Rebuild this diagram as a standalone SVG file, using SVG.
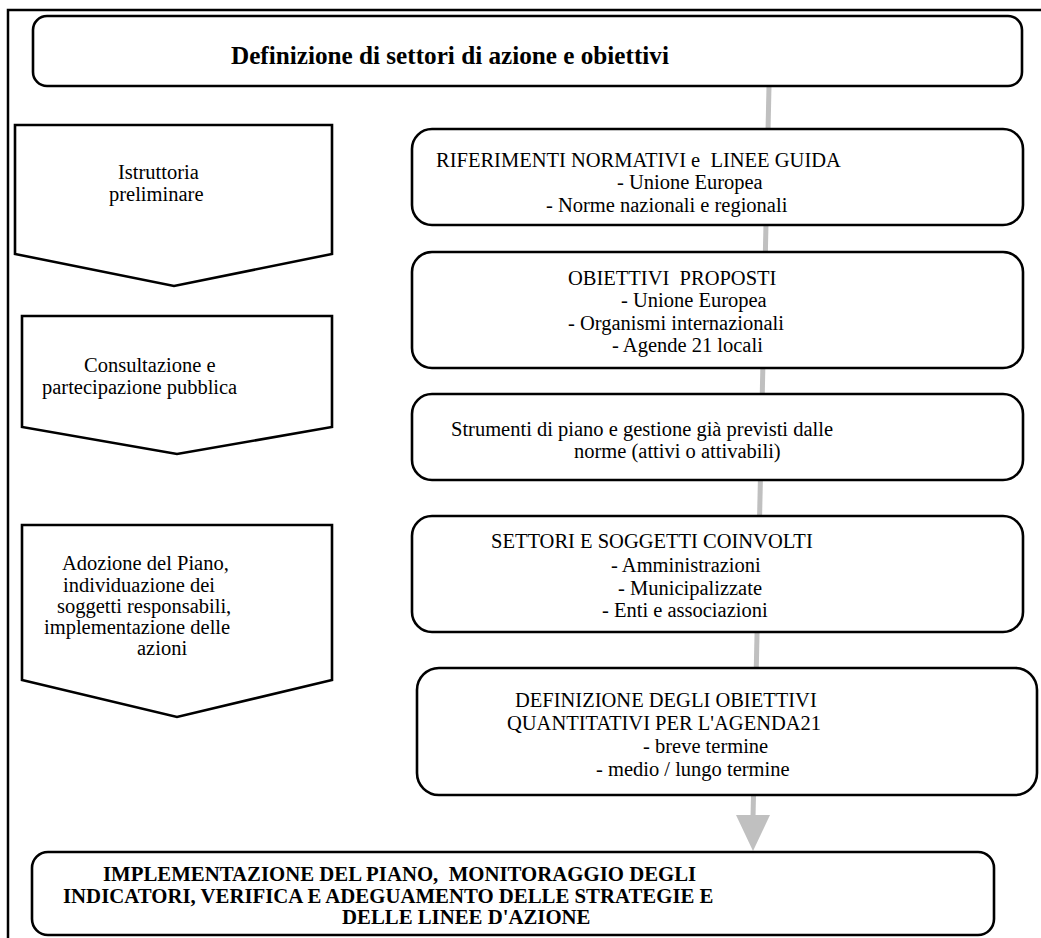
<svg xmlns="http://www.w3.org/2000/svg" width="1041" height="938" viewBox="0 0 1041 938">
<style>
.box{fill:#fff;stroke:#000;stroke-width:2.6}
.t{font-family:"Liberation Serif","Times New Roman",serif;font-size:20.5px;fill:#000;white-space:pre}
.b{font-family:"Liberation Serif","Times New Roman",serif;font-weight:bold;font-size:20.8px;fill:#000;white-space:pre}
.conn{stroke:#c0c0c0;stroke-width:5;fill:none}
</style>
<rect width="1041" height="938" fill="#fff"/>
<path d="M8,938 V10 H1041" fill="none" stroke="#000" stroke-width="2.5"/>
<g id="connectors">
<line class="conn" x1="769" y1="86" x2="753" y2="818"/>
<polygon points="736,815 770,815 753,851" fill="#c0c0c0"/>
</g>
<g id="title">
<rect class="box" x="33" y="16" width="989" height="70" rx="14"/>
<text class="b" style="font-size:25.2px" x="231" y="64">Definizione di settori di azione e obiettivi</text>
</g>
<g id="phase1">
<polygon class="box" points="15,125 332,125 332,254 174,286 15,254"/>
<text class="t" x="118" y="179">Istruttoria</text>
<text class="t" x="109" y="201">preliminare</text>
</g>
<g id="phase2">
<polygon class="box" points="22,316 332,316 332,427 177,454 22,427"/>
<text class="t" x="84" y="372">Consultazione e</text>
<text class="t" x="42" y="394">partecipazione pubblica</text>
</g>
<g id="phase3">
<polygon class="box" points="22,525 332,525 332,680 177,717 22,680"/>
<text class="t" x="62" y="570">Adozione del Piano,</text>
<text class="t" x="63" y="592">individuazione dei</text>
<text class="t" x="57" y="613">soggetti responsabili,</text>
<text class="t" x="44" y="634">implementazione delle</text>
<text class="t" x="137" y="655">azioni</text>
</g>
<g id="riferimenti">
<rect class="box" x="412" y="129" width="611" height="96" rx="20"/>
<text class="t" x="436" y="167" xml:space="preserve">RIFERIMENTI NORMATIVI e  LINEE GUIDA</text>
<text class="t" x="617" y="189">- Unione Europea</text>
<text class="t" x="546" y="212">- Norme nazionali e regionali</text>
</g>
<g id="obiettivi">
<rect class="box" x="412" y="252" width="611" height="116" rx="20"/>
<text class="t" x="568" y="285" xml:space="preserve">OBIETTIVI  PROPOSTI</text>
<text class="t" x="621" y="307">- Unione Europea</text>
<text class="t" x="568" y="330">- Organismi internazionali</text>
<text class="t" x="612" y="352">- Agende 21 locali</text>
</g>
<g id="strumenti">
<rect class="box" x="412" y="394" width="611" height="86" rx="20"/>
<text class="t" x="451" y="436">Strumenti di piano e gestione già previsti dalle</text>
<text class="t" x="574" y="458">norme (attivi o attivabili)</text>
</g>
<g id="settori">
<rect class="box" x="412" y="516" width="611" height="116" rx="20"/>
<text class="t" x="491" y="548">SETTORI E SOGGETTI COINVOLTI</text>
<text class="t" x="611" y="572">- Amministrazioni</text>
<text class="t" x="618" y="595">- Municipalizzate</text>
<text class="t" x="602" y="617">- Enti e associazioni</text>
</g>
<g id="definizione">
<rect class="box" x="417" y="668" width="620" height="127" rx="22"/>
<text class="t" x="515" y="707">DEFINIZIONE DEGLI OBIETTIVI</text>
<text class="t" x="507" y="730">QUANTITATIVI PER L'AGENDA21</text>
<text class="t" x="643" y="753">- breve termine</text>
<text class="t" x="596" y="776">- medio / lungo termine</text>
</g>
<g id="implementazione">
<rect class="box" x="32" y="852" width="962" height="83" rx="16"/>
<text class="b" x="103" y="881" xml:space="preserve">IMPLEMENTAZIONE DEL PIANO,  MONITORAGGIO DEGLI</text>
<text class="b" x="63" y="903">INDICATORI, VERIFICA E ADEGUAMENTO DELLE STRATEGIE E</text>
<text class="b" x="342" y="924">DELLE LINEE D'AZIONE</text>
</g>
</svg>
